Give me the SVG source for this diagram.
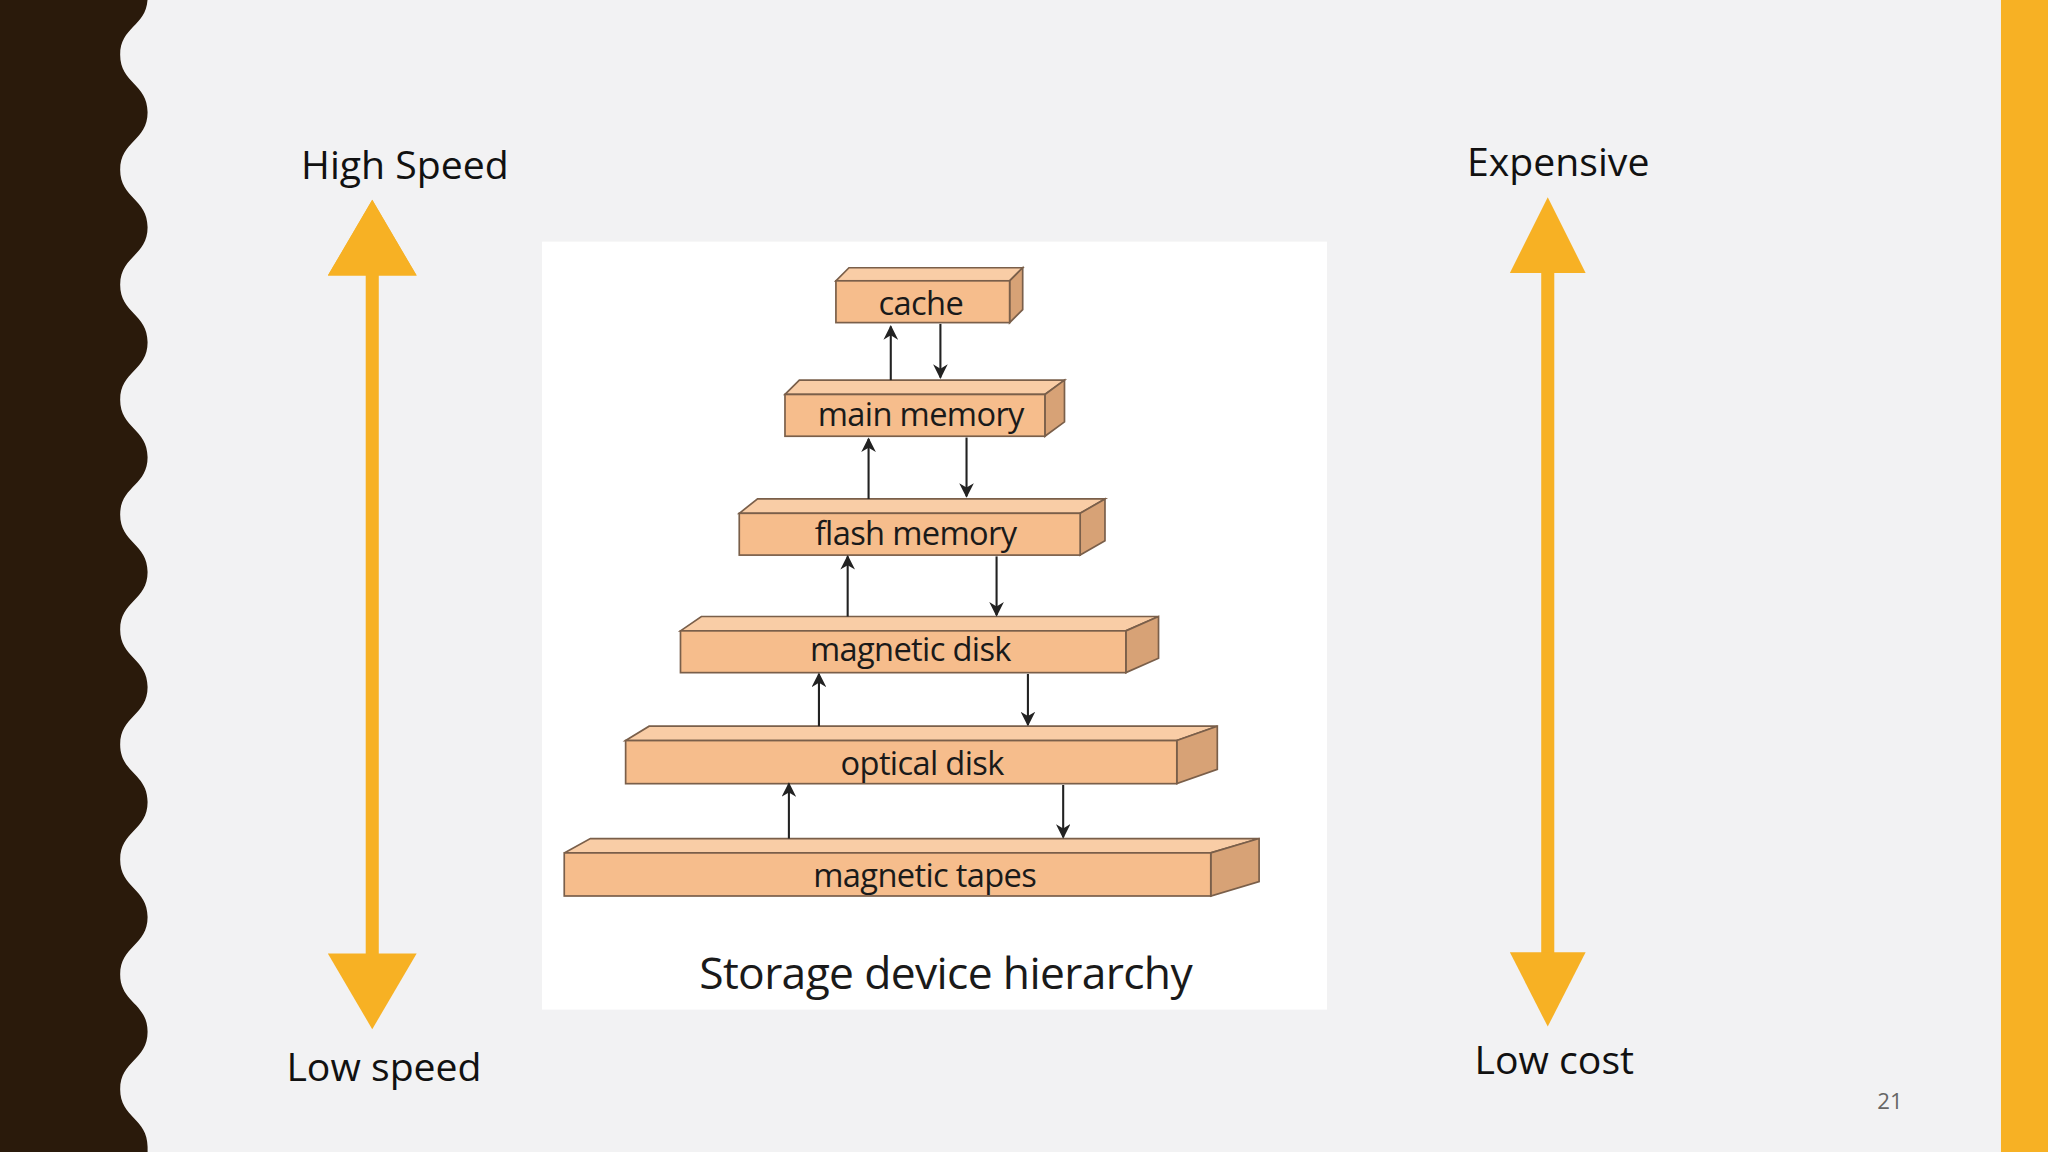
<svg xmlns="http://www.w3.org/2000/svg" width="2048" height="1152" viewBox="0 0 2048 1152">
<defs>
<style>
.lbl{font-family:"Open Sans","Noto Sans",sans-serif;font-size:30px;fill:#111;text-anchor:middle}
.bt{font-family:"Open Sans","Noto Sans",sans-serif;font-size:25px;fill:#1a1a1a;text-anchor:middle;letter-spacing:-0.5px}
.front{fill:#F6BD8C;stroke:#7a5f4a;stroke-width:1.3}
.top{fill:#F9CDA6;stroke:#7a5f4a;stroke-width:1.3}
.side{fill:#D7A276;stroke:#7a5f4a;stroke-width:1.3}
.ln{stroke:#222;stroke-width:1.6;fill:none}
.big{fill:#F7B124}
</style>
<marker id="ah" viewBox="0 0 10 10" refX="9" refY="5" markerWidth="7" markerHeight="7" orient="auto-start-reverse"><path d="M0,0 L10,5 L0,10 L3,5 z" fill="#222"/></marker>
</defs>
<rect width="2048" height="1152" fill="#F2F2F3"/>
<g transform="scale(1.30612)">
<path id="wave" fill="#2A1A0B" d="M0,-2 L113,-2 C113,20 92,20 92,42 C92,64 113,64 113,86 C113,108 92,108 92,130 C92,152 113,152 113,174 C113,196 92,196 92,218 C92,240 113,240 113,262 C113,284 92,284 92,306 C92,328 113,328 113,350 C113,372 92,372 92,394 C92,416 113,416 113,438 C113,460 92,460 92,482 C92,504 113,504 113,526 C113,548 92,548 92,570 C92,592 113,592 113,614 C113,636 92,636 92,658 C92,680 113,680 113,702 C113,724 92,724 92,746 C92,768 113,768 113,790 C113,812 92,812 92,834 C92,856 113,856 113,878 L113,890 L0,890 Z"/>
<rect x="1532" y="0" width="40" height="890" class="big"/>
<rect x="415" y="185" width="601" height="588" fill="#FFFFFF"/>
<g id="speed-axis">
<rect x="280" y="205" width="10" height="530" class="big"/>
<polygon points="285,153 319,211 251,211" class="big" transform="translate(0,0)"/>
<polygon points="285,788 319,730 251,730" class="big"/>
<text class="lbl" x="310" y="137">High Speed</text>
<text class="lbl" x="294" y="828">Low speed</text>
</g>
<g id="cost-axis">
<rect x="1180" y="203" width="10" height="532" class="big"/>
<polygon points="1185,151 1214,209 1156,209" class="big"/>
<polygon points="1185,786 1214,729 1156,729" class="big"/>
<text class="lbl" x="1193" y="135">Expensive</text>
<text class="lbl" x="1190" y="822">Low cost</text>
</g>
<polygon points="285,153 319,211 251,211" class="big"/>
<g id="cache"><polygon class="top" points="640,215 650,205 783,205 773,215"/><polygon class="side" points="773,215 783,205 783,237 773,247"/><rect class="front" x="640" y="215" width="133" height="32"/><text class="bt" x="705" y="241">cache</text></g>
<g id="main"><polygon class="top" points="601,302 612,291 815,291 800,302"/><polygon class="side" points="800,302 815,291 815,323 800,334"/><rect class="front" x="601" y="302" width="199" height="32"/><text class="bt" x="705" y="326">main memory</text></g>
<g id="flash"><polygon class="top" points="566,393 580,382 846,382 827,393"/><polygon class="side" points="827,393 846,382 846,414 827,425"/><rect class="front" x="566" y="393" width="261" height="32"/><text class="bt" x="701" y="417">flash memory</text></g>
<g id="disk"><polygon class="top" points="521,483 537,472 887,472 862,483"/><polygon class="side" points="862,483 887,472 887,504 862,515"/><rect class="front" x="521" y="483" width="341" height="32"/><text class="bt" x="697" y="506">magnetic disk</text></g>
<g id="optical"><polygon class="top" points="479,567 497,556 932,556 901,567"/><polygon class="side" points="901,567 932,556 932,589 901,600"/><rect class="front" x="479" y="567" width="422" height="33"/><text class="bt" x="706" y="593">optical disk</text></g>
<g id="tapes"><polygon class="top" points="432,653 452,642 964,642 927,653"/><polygon class="side" points="927,653 964,642 964,675 927,686"/><rect class="front" x="432" y="653" width="495" height="33"/><text class="bt" x="708" y="679">magnetic tapes</text></g>
<g id="connectors">
<line class="ln" x1="682" y1="291" x2="682" y2="250" marker-end="url(#ah)"/>
<line class="ln" x1="720" y1="248" x2="720" y2="289" marker-end="url(#ah)"/>
<line class="ln" x1="665" y1="382" x2="665" y2="336" marker-end="url(#ah)"/>
<line class="ln" x1="740" y1="335" x2="740" y2="380" marker-end="url(#ah)"/>
<line class="ln" x1="649" y1="472" x2="649" y2="426" marker-end="url(#ah)"/>
<line class="ln" x1="763" y1="426" x2="763" y2="471" marker-end="url(#ah)"/>
<line class="ln" x1="627" y1="556" x2="627" y2="516" marker-end="url(#ah)"/>
<line class="ln" x1="787" y1="516" x2="787" y2="555" marker-end="url(#ah)"/>
<line class="ln" x1="604" y1="642" x2="604" y2="600" marker-end="url(#ah)"/>
<line class="ln" x1="814" y1="601" x2="814" y2="641" marker-end="url(#ah)"/>
</g>
<text x="724" y="757" style="font-family:'Open Sans','Noto Sans',sans-serif;font-size:34px;fill:#1a1a1a;text-anchor:middle;letter-spacing:-0.5px">Storage device hierarchy</text>
<text x="1447" y="849" style="font-family:'Open Sans',sans-serif;font-size:17px;fill:#666;text-anchor:middle">21</text>
</g>
</svg>
